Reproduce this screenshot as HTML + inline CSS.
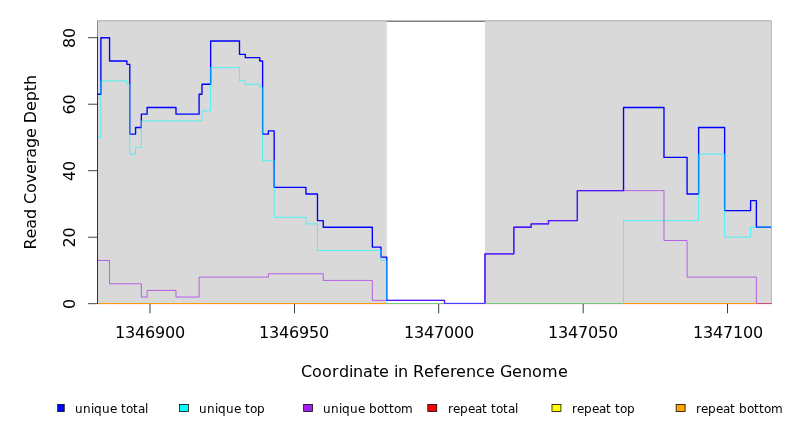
<!DOCTYPE html>
<html lang="en"><head><meta charset="utf-8"><title>Read Coverage Depth</title>
<style>html,body{margin:0;padding:0;background:#fff;}body{width:792px;height:432px;overflow:hidden;}svg{display:block;}text{font-family:"DejaVu Sans","Liberation Sans",sans-serif;fill:#000;}</style>
</head><body>
<svg width="792" height="432" viewBox="0 0 792 432">
<rect x="0" y="0" width="792" height="432" fill="#ffffff"/>
<g id="frame">
<rect x="97.5" y="20" width="673.6" height="1" fill="#bebebe"/>
<rect x="98" y="21" width="673" height="1" fill="#808080"/>
<rect x="771" y="20.7" width="1" height="283.3" fill="#bbbbbb"/>
<rect x="98.03" y="21.17" width="288.75" height="282.82" fill="#d9d9d9"/>
<rect x="484.95" y="21.17" width="286.05" height="282.82" fill="#d9d9d9"/>
<rect x="97" y="20.6" width="1" height="17" fill="#8a8a8a"/>
</g>
<clipPath id="pc"><rect x="98.03" y="21.07" width="672.98" height="281.93"/></clipPath>
<g id="lines" fill="none" stroke-linejoin="round" stroke-linecap="round" clip-path="url(#pc)">
<path stroke="#0000ff" stroke-width="1.35" d="M98.03 94.22H100.91V37.70H109.57V60.97H126.90V64.30H129.79V134.12H135.56V127.47H141.34V114.17H147.11V107.52H175.99V114.17H199.09V94.22H201.97V84.25H210.64V41.02H239.51V54.32H245.29V57.65H259.73V60.97H262.61V134.12H268.39V130.80H274.16V187.32H305.93V193.97H317.48V220.57H323.25V227.22H372.34V247.17H381.00V257.15H386.77V300.38H444.53V303.50 M484.95 303.50V253.82H513.83V227.22H531.15V223.90H548.48V220.57H577.35V190.65H623.55V107.52H663.98V157.40H687.08V193.97H698.62V127.47H724.61V210.60H750.60V200.62H756.38V227.22H770.81"/>
<path stroke="#00ffff" stroke-width="0.65" d="M98.03 137.45H100.91V80.92H126.90V84.25H129.79V154.07H135.56V147.42H141.34V120.82H201.97V110.85H210.64V67.62H239.51V80.92H245.29V84.25H259.73V87.57H262.61V160.72H274.16V217.25H305.93V223.90H317.48V250.50H381.00V260.47H386.77V303.50 M623.55 303.50V220.57H698.62V154.07H724.61V237.20H750.60V227.22H770.81"/>
<path stroke="#a020f0" stroke-width="0.65" d="M98.03 260.47H109.57V283.75H141.34V297.05H147.11V290.40H175.99V297.05H199.09V277.10H268.39V273.77H323.25V280.43H372.34V300.38H444.53V303.50 M484.95 303.50V253.82H513.83V227.22H531.15V223.90H548.48V220.57H577.35V190.65H663.98V240.52H687.08V277.10H756.38V303.50"/>
</g>
<g id="baseline">
<rect x="98.00" y="304.00" width="673.50" height="1.00" fill="#ffeef1"/>
<rect x="98.00" y="303.00" width="288.77" height="1.00" fill="#ff9b08"/>
<rect x="386.77" y="303.00" width="57.75" height="1.00" fill="#78c87c"/>
<rect x="443.93" y="302.85" width="41.63" height="1.15" fill="#4a3cff"/>
<rect x="485.55" y="303.00" width="138.00" height="1.00" fill="#78c87c"/>
<rect x="623.55" y="303.00" width="132.83" height="1.00" fill="#ff9b08"/>
<rect x="756.38" y="303.00" width="15.52" height="1.00" fill="#cf4f7c"/>
</g>
<g id="axes" fill="#333333">
<rect x="97" y="37.2" width="1" height="266.8"/>
<rect x="88" y="303.25" width="9.5" height="0.9"/>
<rect x="88" y="236.75" width="9.5" height="0.9"/>
<rect x="88" y="170.25" width="9.5" height="0.9"/>
<rect x="88" y="103.75" width="9.5" height="0.9"/>
<rect x="88" y="37.25" width="9.5" height="0.9"/>
</g><g id="xticks" fill="#000000">
<rect x="149.62" y="304" width="0.75" height="9.3"/>
<rect x="294.00" y="304" width="0.75" height="9.3"/>
<rect x="438.38" y="304" width="0.75" height="9.3"/>
<rect x="582.75" y="304" width="0.75" height="9.3"/>
<rect x="727.12" y="304" width="0.75" height="9.3"/>
</g>
<g id="ticklabels" font-size="16">
<text x="115 125 135 145 155 165 175" y="338">1346900</text>
<text x="259 269 279 289 299 309 319" y="338">1346950</text>
<text x="404 414 424 434 444 454 464" y="338">1347000</text>
<text x="548 558 568 578 588 598 608" y="338">1347050</text>
<text x="693 703 713 723 733 743 753" y="338">1347100</text>
<text transform="translate(75.3 304.00) rotate(-90)" x="-5" y="0">0</text>
<text transform="translate(75.3 237.50) rotate(-90)" x="-10 0" y="0">20</text>
<text transform="translate(75.3 171.00) rotate(-90)" x="-10 0" y="0">40</text>
<text transform="translate(75.3 104.50) rotate(-90)" x="-10 0" y="0">60</text>
<text transform="translate(75.3 38.00) rotate(-90)" x="-10 0" y="0">80</text>
</g>
<g id="titles" font-size="16">
<text x="301 312 322 332 339 349 353 363 373 379 389 394 398 408 413 424 434 440 450 456 466 476 485 495 500 512 522 532 542 558" y="376.8">Coordinate in Reference Genome</text>
<text transform="translate(36.3 162.25) rotate(-90)" x="-87.2 -76.21 -66.49 -56.8 -46.76 -41.74 -30.7 -21.02 -11.67 -1.94 4.56 14.25 24.29 34.02 39.04 51.22 60.94 70.98 77.18" y="0">Read Coverage Depth</text>
</g>
<g id="legend" font-size="12">
<clipPath id="lc"><rect x="57.2" y="395" width="735" height="30"/></clipPath>
<g clip-path="url(#lc)">
<rect x="55.30" y="404.38" width="8.95" height="7.15" fill="#0000ff" stroke="#000" stroke-width="0.75"/>
<text x="75 83 91 94 102 110 117 121 126 133 138 145" y="412.8">unique total</text>
<rect x="179.47" y="404.38" width="8.95" height="7.15" fill="#00ffff" stroke="#000" stroke-width="0.75"/>
<text x="199 207 215 218 226 234 241 245 250 257" y="412.8">unique top</text>
<rect x="303.64" y="404.38" width="8.95" height="7.15" fill="#a020f0" stroke="#000" stroke-width="0.75"/>
<text x="323 331 339 342 350 358 365 369 377 384 389 394 401" y="412.8">unique bottom</text>
<rect x="427.81" y="404.38" width="8.95" height="7.15" fill="#ff0000" stroke="#000" stroke-width="0.75"/>
<text x="448 453 460 468 475 482 487 491 496 503 508 515" y="412.8">repeat total</text>
<rect x="551.99" y="404.38" width="8.95" height="7.15" fill="#ffff00" stroke="#000" stroke-width="0.75"/>
<text x="572 577 584 592 599 606 611 615 620 627" y="412.8">repeat top</text>
<rect x="676.15" y="404.38" width="8.95" height="7.15" fill="#ffa500" stroke="#000" stroke-width="0.75"/>
<text x="696 701 708 716 723 730 735 739 747 754 759 764 771" y="412.8">repeat bottom</text>
</g></g>
</svg>
</body></html>
